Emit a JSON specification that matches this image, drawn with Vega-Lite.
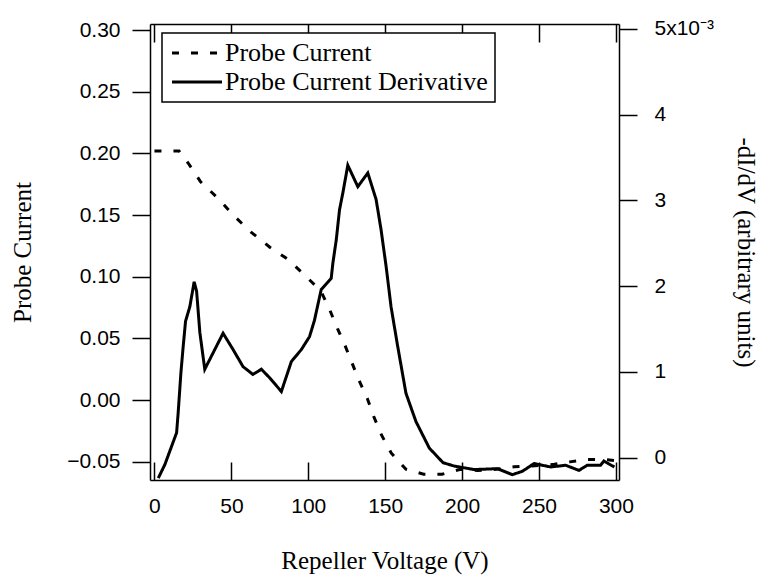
{
  "$schema": "https://vega.github.io/schema/vega-lite/v6.json",
  "width": 469,
  "height": 456,
  "autosize": {"type": "none"},
  "padding": {"left": 150, "top": 24, "right": 152, "bottom": 96},
  "background": "white",
  "datasets": {
    "probe": [
      {"voltage": 0, "current": 0.202},
      {"voltage": 8, "current": 0.202},
      {"voltage": 16, "current": 0.202},
      {"voltage": 22, "current": 0.192},
      {"voltage": 30, "current": 0.177},
      {"voltage": 41, "current": 0.164},
      {"voltage": 52, "current": 0.149},
      {"voltage": 63, "current": 0.136},
      {"voltage": 75, "current": 0.124},
      {"voltage": 87, "current": 0.114},
      {"voltage": 97, "current": 0.102},
      {"voltage": 108, "current": 0.089},
      {"voltage": 114, "current": 0.073},
      {"voltage": 119, "current": 0.058},
      {"voltage": 124, "current": 0.044},
      {"voltage": 128.5, "current": 0.030},
      {"voltage": 133, "current": 0.016},
      {"voltage": 138.5, "current": 0.001},
      {"voltage": 142.5, "current": -0.013},
      {"voltage": 147.5, "current": -0.028},
      {"voltage": 154, "current": -0.043},
      {"voltage": 163.5, "current": -0.056},
      {"voltage": 175, "current": -0.060},
      {"voltage": 187, "current": -0.060},
      {"voltage": 199, "current": -0.056},
      {"voltage": 210, "current": -0.057},
      {"voltage": 222, "current": -0.056},
      {"voltage": 234, "current": -0.054},
      {"voltage": 250, "current": -0.053},
      {"voltage": 260, "current": -0.052},
      {"voltage": 270, "current": -0.050},
      {"voltage": 281, "current": -0.048},
      {"voltage": 292, "current": -0.048},
      {"voltage": 300, "current": -0.049}
    ],
    "deriv": [
      {"voltage": 2.5, "dIdV": -0.24},
      {"voltage": 6.8, "dIdV": -0.08},
      {"voltage": 14.4, "dIdV": 0.29},
      {"voltage": 15.4, "dIdV": 0.52},
      {"voltage": 17.2, "dIdV": 0.99},
      {"voltage": 18.7, "dIdV": 1.30},
      {"voltage": 20.2, "dIdV": 1.59},
      {"voltage": 23, "dIdV": 1.76},
      {"voltage": 25.8, "dIdV": 2.05},
      {"voltage": 27.4, "dIdV": 1.94},
      {"voltage": 29.5, "dIdV": 1.46},
      {"voltage": 32.7, "dIdV": 1.03},
      {"voltage": 44.6, "dIdV": 1.45},
      {"voltage": 51.1, "dIdV": 1.26},
      {"voltage": 57.6, "dIdV": 1.06},
      {"voltage": 64, "dIdV": 0.97},
      {"voltage": 69.5, "dIdV": 1.03},
      {"voltage": 74.9, "dIdV": 0.93},
      {"voltage": 82.5, "dIdV": 0.77},
      {"voltage": 89, "dIdV": 1.12},
      {"voltage": 95.5, "dIdV": 1.26},
      {"voltage": 100.8, "dIdV": 1.41},
      {"voltage": 104, "dIdV": 1.6},
      {"voltage": 108.4, "dIdV": 1.96},
      {"voltage": 114.9, "dIdV": 2.09},
      {"voltage": 116, "dIdV": 2.27},
      {"voltage": 118.2, "dIdV": 2.54},
      {"voltage": 120.3, "dIdV": 2.89},
      {"voltage": 122.5, "dIdV": 3.09},
      {"voltage": 125.7, "dIdV": 3.41},
      {"voltage": 132.2, "dIdV": 3.16},
      {"voltage": 138.7, "dIdV": 3.32},
      {"voltage": 144.1, "dIdV": 3.01},
      {"voltage": 147.3, "dIdV": 2.66},
      {"voltage": 150.6, "dIdV": 2.23},
      {"voltage": 153.8, "dIdV": 1.76},
      {"voltage": 158.1, "dIdV": 1.30},
      {"voltage": 163.5, "dIdV": 0.75},
      {"voltage": 170, "dIdV": 0.42},
      {"voltage": 178.7, "dIdV": 0.11},
      {"voltage": 187.6, "dIdV": -0.06},
      {"voltage": 195, "dIdV": -0.10},
      {"voltage": 207.8, "dIdV": -0.14},
      {"voltage": 223, "dIdV": -0.13},
      {"voltage": 232.7, "dIdV": -0.20},
      {"voltage": 239.2, "dIdV": -0.16},
      {"voltage": 246.8, "dIdV": -0.07},
      {"voltage": 257.6, "dIdV": -0.11},
      {"voltage": 267.3, "dIdV": -0.09},
      {"voltage": 276, "dIdV": -0.15},
      {"voltage": 281.3, "dIdV": -0.09},
      {"voltage": 290, "dIdV": -0.09},
      {"voltage": 292.2, "dIdV": -0.04},
      {"voltage": 296, "dIdV": -0.08},
      {"voltage": 299, "dIdV": -0.11}
    ]
  },
  "config": {
    "view": {"stroke": null},
    "axis": {
      "domainColor": "black",
      "domainWidth": 1.5,
      "tickColor": "black",
      "tickWidth": 1.5,
      "grid": false,
      "labelFont": "Liberation Sans",
      "labelFontSize": 21,
      "labelColor": "black",
      "titleFont": "Liberation Serif",
      "titleFontSize": 25,
      "titleFontWeight": "normal",
      "titleColor": "black"
    },
    "legend": {
      "orient": "none",
      "legendX": 12,
      "legendY": 9,
      "strokeColor": "black",
      "strokeWidth": 1.5,
      "fillColor": "white",
      "padding": 7,
      "symbolType": "M-1,0H4",
      "symbolSize": 400,
      "symbolStrokeWidth": 3,
      "symbolStrokeColor": "black",
      "labelFont": "Liberation Serif",
      "labelFontSize": 26,
      "labelColor": "black",
      "labelOffset": 30,
      "rowPadding": 3,
      "labelLimit": 0
    }
  },
  "resolve": {"scale": {"y": "independent"}, "axis": {"x": "independent"}},
  "layer": [
    {
      "data": {"name": "probe"},
      "mark": {"type": "line", "strokeWidth": 3, "color": "black"},
      "encoding": {
        "x": {
          "field": "voltage",
          "type": "quantitative",
          "scale": {"domain": [-2.9, 302], "nice": false, "zero": false},
          "axis": {
            "orient": "bottom",
            "values": [0, 50, 100, 150, 200, 250, 300],
            "tickSize": -18,
            "labelPadding": 33,
            "labelFlush": false,
            "labelOverlap": false,
            "title": "Repeller Voltage (V)",
            "titleX": 234.5,
            "titleY": 80,
            "titleBaseline": "middle",
            "titleAlign": "center"
          }
        },
        "y": {
          "field": "current",
          "type": "quantitative",
          "scale": {"domain": [-0.0647, 0.3049], "nice": false, "zero": false},
          "axis": {
            "orient": "left",
            "values": [-0.05, 0, 0.05, 0.1, 0.15, 0.2, 0.25, 0.3],
            "format": ".2f",
            "tickSize": 18,
            "labelPadding": 12,
            "title": "Probe Current",
            "titleX": -128,
            "titleY": 228,
            "titleAngle": -90,
            "titleBaseline": "middle",
            "titleAlign": "center"
          }
        },
        "strokeDash": {
          "datum": "Probe Current",
          "type": "nominal",
          "scale": {"domain": ["Probe Current", "Probe Current Derivative"], "range": [[7, 12], [1, 0]]},
          "legend": {"title": null}
        }
      }
    },
    {
      "data": {"name": "deriv"},
      "mark": {"type": "line", "strokeWidth": 3, "color": "black"},
      "encoding": {
        "x": {
          "field": "voltage",
          "type": "quantitative",
          "axis": {
            "orient": "top",
            "values": [0, 50, 100, 150, 200, 250, 300],
            "tickSize": -18,
            "labels": false,
            "title": null
          }
        },
        "y": {
          "field": "dIdV",
          "type": "quantitative",
          "scale": {"domain": [-0.262, 5.058], "nice": false, "zero": false},
          "axis": {
            "orient": "right",
            "values": [0, 1, 2, 3, 4, 5],
            "labelExpr": "datum.value == 5 ? '5x10⁻³' : datum.label",
            "tickSize": 18,
            "labelPadding": 17,
            "title": "-dI/dV (arbitrary units)",
            "titleX": 126,
            "titleY": 228,
            "titleAngle": 90,
            "titleBaseline": "middle",
            "titleAlign": "center"
          }
        },
        "strokeDash": {"datum": "Probe Current Derivative", "type": "nominal"}
      }
    }
  ]
}
